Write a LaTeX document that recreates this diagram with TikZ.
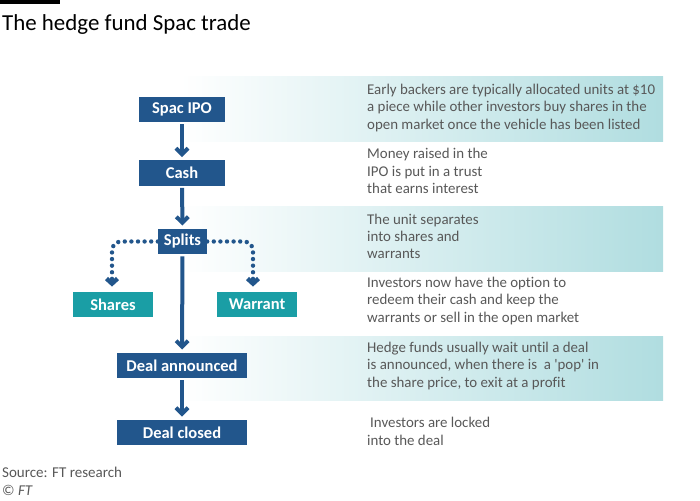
\documentclass[tikz,border=0pt]{standalone}
\usepackage{fontspec}
\setmainfont[Ligatures=NoCommon]{Carlito}
\usepackage{tikz}
\usetikzlibrary{calc}
\usetikzlibrary{arrows.meta}
\definecolor{ftblue}{HTML}{22568C}
\definecolor{ftteal}{HTML}{1A9EA5}
\definecolor{band}{HTML}{B0DDE0}
\definecolor{ftgray}{HTML}{585858}

\begin{document}
\begin{tikzpicture}[x=1pt, y=-1pt,
  darkbox/.style={fill=ftblue, text=white, inner sep=0, minimum height=25.5pt, font=\bfseries\fontsize{16.5}{16.5}\selectfont},
  lightbox/.style={darkbox, fill=ftteal},
  note/.style={anchor=west, align=left, inner sep=0, text=ftgray, font=\fontsize{14.9}{17.3}\selectfont},
  flow/.style={ftblue, line width=4pt, -{Straight Barb[length=6pt, width=12pt]}, shorten <=2pt, shorten >=3pt},
  dots/.style={ftblue, line width=4.4pt, line cap=round, dash pattern=on 0pt off 6.6pt, rounded corners=9pt, -{Straight Barb[length=5pt, width=11pt]}}]

\useasboundingbox (0,0) rectangle (700,500);

% title

\fill[black] (0,0) rectangle (60,4);
\node[anchor=base west, inner sep=0, font=\fontsize{22.9}{22.9}\selectfont] (title) at (2,31) {The hedge fund Spac trade};

% bands

\shade[left color=white, right color=band] (180,77) rectangle (663,141);
\shade[left color=white, right color=band] (180,206) rectangle (663,271);
\shade[left color=white, right color=band] (180,336) rectangle (663,400);

% boxes

\node[darkbox, minimum width=86pt] (ipo) at (182,109.5) {Spac IPO};
\node[darkbox, minimum width=86pt] (cash) at (182,173) {Cash};
\node[darkbox, minimum width=49pt] (splits) at (182.5,241.5) {Splits};
\node[lightbox, minimum width=80pt] (shares) at (113,304.5) {Shares};
\node[lightbox, minimum width=80pt] (warrant) at (257,304.5) {Warrant};
\node[darkbox, minimum width=130pt] (announced) at (182,365.5) {Deal announced};
\node[darkbox, minimum width=130pt] (closed) at (182,432.5) {Deal closed};

% arrows

\draw[flow] (ipo) -- (cash);
\draw[flow] (cash) -- (splits);
\draw[flow] (splits) -- (announced);
\draw[flow] (announced) -- (closed);

\coordinate (sharesin) at ([xshift=-1pt, yshift=5pt]shares.north);
\coordinate (warrantin) at ([xshift=-4pt, yshift=5pt]warrant.north);
\draw[dots] (splits.west) -| (sharesin);
\draw[dots] (splits.east) -| (warrantin);

% notes

\node[note] (n1) at (367,108) {Early backers are typically allocated units at \$10\\a piece while other investors buy shares in the\\open market once the vehicle has been listed};
\node[note] (n2) at (367,171) {Money raised in the\\IPO is put in a trust\\that earns interest};
\node[note] (n3) at (367,236.5) {The unit separates\\into shares and\\warrants};
\node[note] (n4) at (367,301) {Investors now have the option to\\redeem their cash and keep the\\warrants or sell in the open market};
\node[note] (n5) at (367,366) {Hedge funds usually wait until a deal\\is announced, when there is\ \ a \textquotesingle pop\textquotesingle{} in\\the share price, to exit at a profit};
\node[note] (n6) at (367,431.5) {\hspace*{3pt}Investors are locked\\into the deal};

% source

\node[anchor=base west, inner sep=0, text=ftgray, font=\fontsize{15}{15}\selectfont] (source) at (2,477) {Source: FT research};
\node[anchor=base west, inner sep=0, text=ftgray, font=\fontsize{15}{15}\selectfont] (copy) at (2,495) {\char"00A9\ \textit{FT}};

\end{tikzpicture}
\end{document}
